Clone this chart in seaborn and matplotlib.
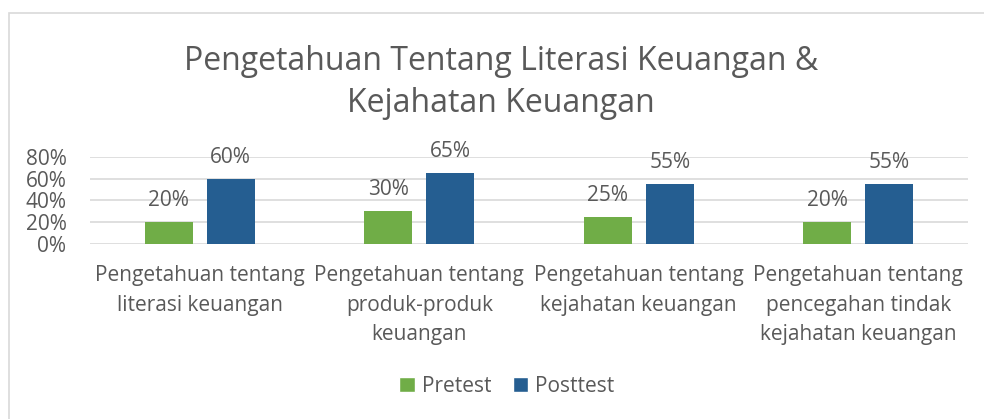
import matplotlib
matplotlib.use("Agg")
import matplotlib.pyplot as plt
import seaborn as sns
import pandas as pd
from matplotlib.patches import Rectangle, Patch

categories = [
    "Pengetahuan tentang\nliterasi keuangan",
    "Pengetahuan tentang\nproduk-produk\nkeuangan",
    "Pengetahuan tentang\nkejahatan keuangan",
    "Pengetahuan tentang\npencegahan tindak\nkejahatan keuangan",
]
series = ["Pretest", "Posttest"]
pretest = [0.20, 0.30, 0.25, 0.20]
posttest = [0.60, 0.65, 0.55, 0.55]
yticks = [0, 0.2, 0.4, 0.6, 0.8]
ytick_labels = ["0%", "20%", "40%", "60%", "80%"]
title = "Pengetahuan Tentang Literasi Keuangan &\nKejahatan Keuangan"

green = "#70AD47"
blue = "#255E91"
txt = "#595959"
grid = "#D9D9D9"

rows = []
for c, a, b in zip(categories, pretest, posttest):
    rows.append({"cat": c, "group": series[0], "value": a})
    rows.append({"cat": c, "group": series[1], "value": b})
df = pd.DataFrame(rows)

sns.set_style("white")
plt.rcParams["font.family"] = ["Open Sans", "DejaVu Sans"]

W, H = 984, 419
fig = plt.figure(figsize=(W / 100, H / 100), dpi=100)

# outer chart border
fig.patches.append(Rectangle((9 / W, -0.1), 1.2, 1 - 13 / H + 0.1,
                             transform=fig.transFigure, fill=False,
                             edgecolor=grid, linewidth=1.2))

ax = fig.add_axes([90 / W, 1 - 244 / H, 878 / W, 87 / H])
sns.barplot(data=df, x="cat", y="value", hue="group", order=categories,
            hue_order=series, palette=[green, blue], width=0.565, gap=0.226,
            ax=ax, legend=False, saturation=1, linewidth=0)

ax.set_ylim(0, 0.8)
ax.set_xlim(-0.5, len(categories) - 0.5)
ax.set_yticks(yticks)
ax.set_yticklabels(ytick_labels)
ax.set_xticks(range(len(categories)))
ax.set_xticklabels(categories, linespacing=1.55)
ax.yaxis.grid(True, color=grid, linewidth=1.2)
ax.set_axisbelow(True)
for s in ax.spines.values():
    s.set_visible(False)
ax.tick_params(axis="both", length=0, labelsize=15, labelcolor=txt)
ax.tick_params(axis="y", pad=17)
ax.tick_params(axis="x", pad=15)
ax.set_xlabel("")
ax.set_ylabel("")

for cont, vals in zip(ax.containers, [pretest, posttest]):
    ax.bar_label(cont, labels=[f"{round(v * 100)}%" for v in vals],
                 padding=8, fontsize=15, color=txt)

fig.text(501 / W, 1 - 82.5 / H, title, ha="center", va="center",
         fontsize=23, color=txt, linespacing=1.35)

handles = [Patch(facecolor=green, label=series[0]),
           Patch(facecolor=blue, label=series[1])]
fig.legend(handles=handles, loc="center", bbox_to_anchor=(507 / W, 1 - 386 / H),
           ncol=2, frameon=False, fontsize=15, labelcolor=txt,
           handlelength=0.75, handleheight=0.75, handletextpad=0.35,
           columnspacing=1.0)

fig.savefig("out.png", dpi=100)
